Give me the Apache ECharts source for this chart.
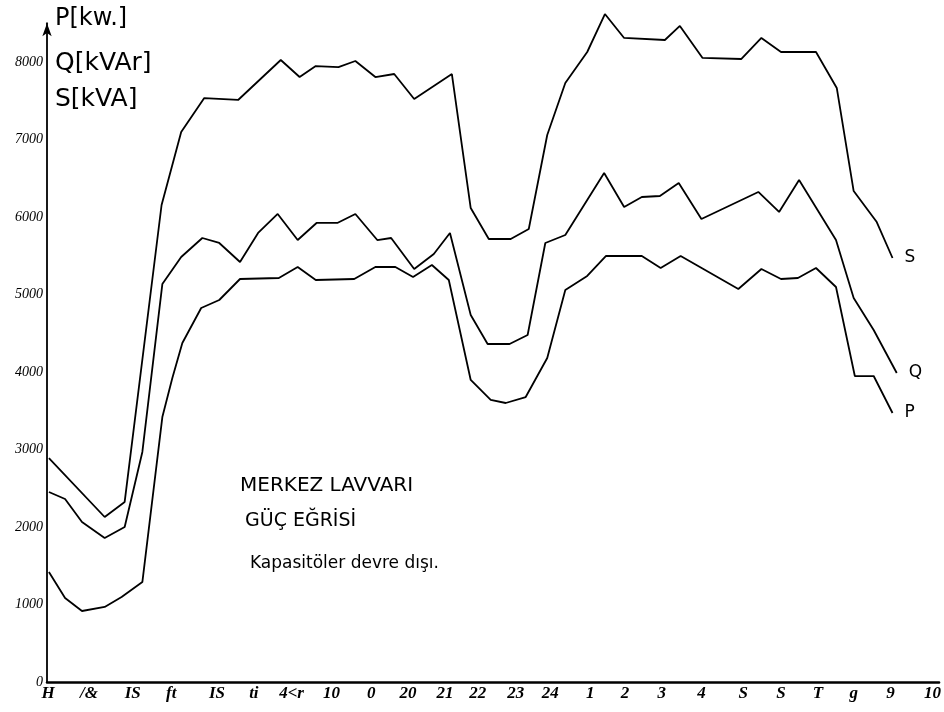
<!DOCTYPE html>
<html>
<head>
<meta charset="utf-8">
<script src="https://cdn.jsdelivr.net/npm/echarts@6/dist/echarts.min.js"></script>
<style>
  html, body { margin: 0; padding: 0; background: #fff; }
  #chart { width: 944px; height: 712px; }
</style>
</head>
<body>
<div id="chart"></div>
<script>
// Hour labels along the time axis and where each one sits (in hour slots)
const xLabels = ['H', '/&', 'IS', 'ft', 'IS', 'ti', '4<r', '10', '0', '20', '21', '22',
                 '23', '24', '1', '2', '3', '4', 'S', 'S', 'T', 'g', '9', '10'];
const labelAt = [0.03, 1.09, 2.23, 3.23, 4.42, 5.38, 6.36, 7.40, 8.43, 9.39, 10.35, 11.20,
                 12.19, 13.09, 14.13, 15.03, 15.99, 17.02, 18.11, 19.09, 20.05, 20.98, 21.94, 23.03];

// Apparent power S [kVA]
const sX = [0.05, 1.50, 2.02, 2.98, 3.49, 4.09, 4.97, 6.08, 6.57, 6.99, 7.58, 8.02, 8.54, 9.03,
            9.55, 10.53, 11.02, 11.49, 12.06, 12.53, 13.01, 13.48, 14.05, 14.51, 15.01, 16.07,
            16.46, 17.05, 18.06, 18.58, 19.09, 20.00, 20.54, 20.98, 21.58, 21.99];
const sY = [2890, 2129, 2323, 6155, 7097, 7535, 7510, 8026, 7806, 7948, 7935, 8013, 7806, 7845,
            7523, 7845, 6116, 5716, 5716, 5845, 7058, 7729, 8129, 8619, 8310, 8284,
            8465, 8052, 8039, 8310, 8129, 8129, 7665, 6335, 5935, 5471];

// Reactive power Q [kVAr]
const qX = [0.05, 0.47, 0.91, 1.50, 2.02, 2.48, 3.00, 3.49, 4.04, 4.48, 5.02, 5.49, 6.00, 6.52,
            7.01, 7.55, 8.02, 8.59, 8.95, 9.55, 10.06, 10.48, 11.02, 11.46, 12.03, 12.50, 12.96,
            13.48, 14.49, 15.01, 15.47, 15.94, 16.43, 17.02, 18.50, 19.04, 19.56, 20.52, 20.98,
            21.50, 22.10];
const qY = [2452, 2361, 2065, 1858, 2000, 2968, 5135, 5484, 5729, 5665, 5419, 5794, 6039, 5703,
            5923, 5923, 6039, 5703, 5729, 5329, 5523, 5794, 4735, 4361, 4361, 4477, 5665,
            5768, 6568, 6129, 6258, 6271, 6439, 5974, 6323, 6065, 6477, 5703, 4955,
            4542, 3987];

// Active power P [kW]
const pX = [0.05, 0.47, 0.91, 1.50, 1.94, 2.48, 3.00, 3.26, 3.52, 4.01, 4.48, 5.02, 6.03, 6.52,
            6.99, 7.99, 8.54, 9.06, 9.52, 10.01, 10.45, 11.02, 11.54, 11.93, 12.45, 13.01, 13.48,
            14.05, 14.54, 15.47, 15.96, 16.48, 17.98, 18.58, 19.09, 19.53, 20.00, 20.52, 21.01,
            21.50, 21.99];
const pY = [1419, 1084, 916, 968, 1097, 1290, 3419, 3923, 4374, 4826, 4929, 5200, 5213, 5355,
            5187, 5200, 5355, 5355, 5226, 5381, 5187, 3897, 3639, 3600, 3677, 4181, 5058,
            5239, 5497, 5497, 5342, 5497, 5071, 5329, 5200, 5213, 5342, 5097, 3948,
            3948, 3471];

const pairs = (xs, ys) => xs.map((x, i) => [x, ys[i]]);

const handFont = '"DejaVu Sans", "Noto Sans", sans-serif';

function curve(name, xs, ys) {
  return {
    name: name,
    type: 'line',
    data: pairs(xs, ys),
    symbol: 'none',
    clip: false,
    silent: true,
    lineStyle: { color: '#000', width: 1.8 },
    endLabel: {
      show: true,
      formatter: name,
      color: '#000',
      fontFamily: handFont,
      fontSize: 17,
      distance: 12
    }
  };
}

const chart = echarts.init(document.getElementById('chart'), null, { renderer: 'canvas' });

chart.setOption({
  animation: false,
  backgroundColor: '#fff',
  grid: { left: 47, right: 0, top: 23.25, bottom: 30, containLabel: false },
  xAxis: {
    type: 'value',
    min: 0,
    max: 23.2,
    axisLine: { show: true, onZero: false, lineStyle: { color: '#000', width: 2.5 } },
    axisTick: { show: false },
    splitLine: { show: false },
    axisLabel: {
      customValues: labelAt,
      margin: 3,
      color: '#000',
      fontFamily: '"Liberation Serif", "DejaVu Serif", serif',
      fontStyle: 'italic',
      fontWeight: 'bold',
      fontSize: 17,
      formatter: function (v) {
        let best = 0;
        for (let i = 1; i < labelAt.length; i++) {
          if (Math.abs(labelAt[i] - v) < Math.abs(labelAt[best] - v)) best = i;
        }
        return Math.abs(labelAt[best] - v) < 0.01 ? xLabels[best] : '';
      }
    }
  },
  yAxis: {
    type: 'value',
    min: 0,
    max: 8500,
    interval: 1000,
    axisLine: {
      show: true,
      onZero: false,
      symbol: ['none', 'arrow'],
      symbolSize: [7, 13],
      lineStyle: { color: '#000', width: 1.8 }
    },
    axisTick: { show: false },
    splitLine: { show: false },
    axisLabel: {
      margin: 4,
      color: '#000',
      fontFamily: '"Liberation Serif", "DejaVu Serif", serif',
      fontStyle: 'italic',
      fontSize: 14,
      formatter: function (v) { return v % 1000 === 0 ? String(v) : ''; }
    }
  },
  graphic: [
    { type: 'text', left: 55, top: 7, style: { text: 'P[kw.]', font: '24px ' + handFont, fill: '#000' } },
    { type: 'text', left: 55, top: 51, style: { text: 'Q[kVAr]', font: '25px ' + handFont, fill: '#000' } },
    { type: 'text', left: 55, top: 87, style: { text: 'S[kVA]', font: '25px ' + handFont, fill: '#000' } },
    { type: 'text', left: 240, top: 476, style: { text: 'MERKEZ LAVVARI', font: '20px ' + handFont, fill: '#000' } },
    { type: 'text', left: 245, top: 512, style: { text: 'GÜÇ EĞRİSİ', font: '19px ' + handFont, fill: '#000' } },
    { type: 'text', left: 250, top: 555, style: { text: 'Kapasitöler devre dışı.', font: '17px ' + handFont, fill: '#000' } }
  ],
  series: [
    curve('S', sX, sY),
    curve('Q', qX, qY),
    curve('P', pX, pY)
  ]
});
</script>
</body>
</html>
